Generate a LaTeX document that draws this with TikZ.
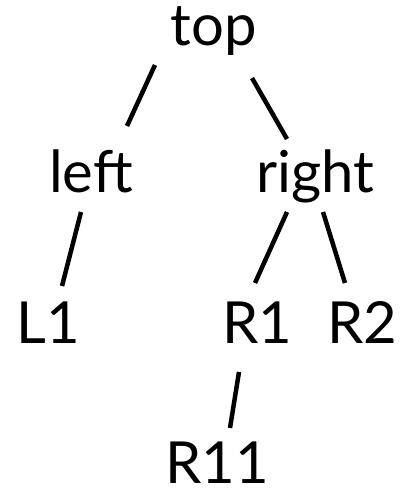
\documentclass[tikz,border=0pt]{standalone}
\usepackage{fontspec}
\setmainfont{Lato}
\begin{document}
\begin{tikzpicture}[x=1pt,y=-1pt,
  label/.style={inner sep=0pt,anchor=base,font=\fontsize{58}{60}\selectfont},
  branch/.style={line width=4.5pt}]
\useasboundingbox (0,0) rectangle (402,494);
% tree labels, placed on their baselines
\node[label] (top)   at (214,46)  {top};
\node[label] (left)  at (91,193)  {left};
\node[label] (right) at (315,193) {right};
\node[label] (L1)    at (48,343)  {L1};
\node[label] (R1)    at (257,343) {R1};
\node[label] (R2)    at (362,343) {R2};
\node[label] (R11)   at (217,483) {R11};
% end points of the short branch strokes
\coordinate (tl1) at (155,65);  \coordinate (tl2) at (127,126);
\coordinate (tr1) at (252,78);  \coordinate (tr2) at (287,139);
\coordinate (ll1) at (81,212);  \coordinate (ll2) at (62,286);
\coordinate (rl1) at (287,212); \coordinate (rl2) at (255,283);
\coordinate (rr1) at (323,212); \coordinate (rr2) at (345,283);
\coordinate (ro1) at (239,372); \coordinate (ro2) at (230,428);
\draw[branch] (tl1) -- (tl2);
\draw[branch] (tr1) -- (tr2);
\draw[branch] (ll1) -- (ll2);
\draw[branch] (rl1) -- (rl2);
\draw[branch] (rr1) -- (rr2);
\draw[branch] (ro1) -- (ro2);
\end{tikzpicture}
\end{document}
